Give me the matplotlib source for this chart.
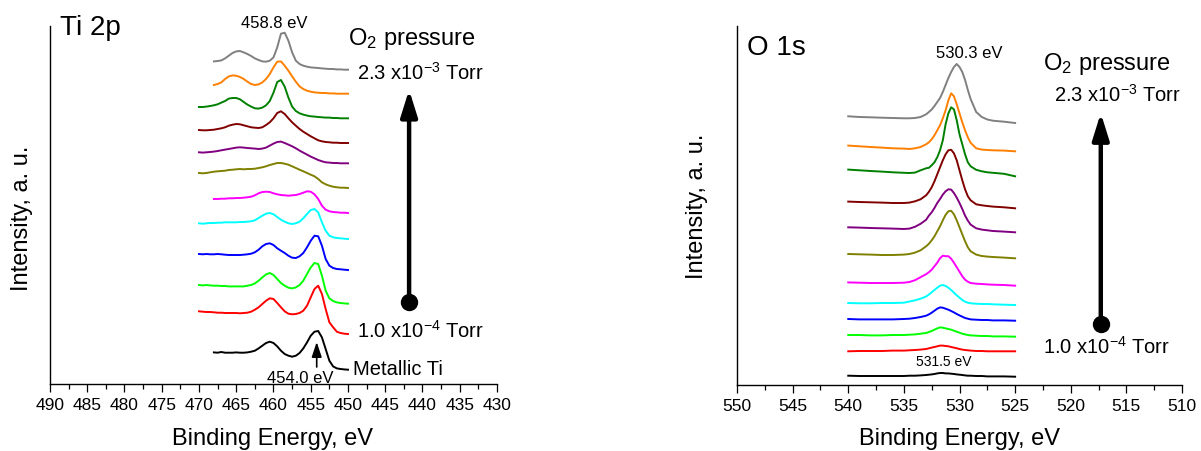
import numpy as np
import matplotlib
matplotlib.use('Agg')
import matplotlib.pyplot as plt
from matplotlib.ticker import MultipleLocator

plt.rcParams['font.family'] = 'Liberation Sans'
plt.rcParams['mathtext.fontset'] = 'custom'
plt.rcParams['mathtext.rm'] = 'Liberation Sans'
plt.rcParams['mathtext.it'] = 'Liberation Sans:italic'

# curve colours, top spectrum (highest O2 pressure) first
colors = ['#808080', '#FF8000', '#008000', '#800000', '#800080', '#808000',
          '#FF00FF', '#00FFFF', '#0000FF', '#00FF00', '#FF0000', '#000000']

# ---- Ti 2p spectra ----
ti_energy = [470, 469.5, 469, 468.5, 468, 467.5, 467, 466.5, 466, 465.5, 465,
             464.5, 464, 463.5, 463, 462.5, 462, 461.5, 461, 460.5, 460, 459.5,
             459, 458.5, 458, 457.5, 457, 456.5, 456, 455.5, 455, 454.5, 454,
             453.5, 453, 452.5, 452, 451.5, 451, 450.5, 450]
na = [None] * 4
ti_gray = na + [8.3, 8.7, 9.3, 11.3, 14, 16.7, 18.3, 18.7, 17.3, 15.7, 13.7, 11.3, 9.7,
                8.3, 8, 9, 12.3, 22.3, 36, 37, 29, 17.3, 9, 5.7, 4, 3, 2.3, 2, 1.7, 1.3,
                1, 0.7, 0.7, 0.3, 0.3, 0, 0]
ti_orange = na + [8.7, 9.7, 11.3, 14.7, 17.3, 18.3, 18, 16.7, 14.7, 12, 9.7, 8.7, 9.3,
                  11.3, 14.7, 19.7, 26.3, 32, 32.3, 28, 23, 17.3, 12, 7.3, 4.7, 3, 2,
                  1.3, 1, 0.7, 0.7, 0.3, 0.3, 0, 0, 0, 0]
ti_green = [11.3, 11.3, 11.7, 12.3, 13, 14, 15.7, 17.3, 19.7, 20.3, 20.3, 19, 16.3, 13.7,
            11.7, 10, 9.7, 10.7, 13, 17.3, 25.7, 36.3, 38.3, 31.7, 20.7, 11.7, 7.3, 5,
            3.7, 2.7, 2, 1.7, 1.3, 1, 0.7, 0.7, 0.3, 0.3, 0, 0, 0]
ti_darkred = [13, 12.7, 12.7, 13, 13.3, 14, 14.7, 15.7, 17.3, 18.3, 19, 18.7, 17.7, 16.7,
              15.7, 15.3, 15, 15.7, 18, 20.7, 24.7, 30, 31.7, 29, 24.7, 20.7, 17.3, 14,
              11.3, 9, 6.7, 4.7, 2.7, 1.7, 1, 0.7, 0.3, 0.3, 0, 0, 0]
ti_purple = [11, 10.7, 11, 11.3, 11.7, 12.3, 13, 13.7, 14.3, 15, 15.7, 16, 15.7, 15.3,
             15, 14.7, 14.3, 14.7, 15.7, 17.7, 19.7, 21.3, 21.7, 20.3, 18.7, 17, 15,
             12.7, 10.7, 8.7, 6.7, 5, 3.3, 2, 1, 0.7, 0.3, 0.3, 0, 0, 0]
ti_olive = [15, 14.7, 15, 15.7, 16.3, 16.7, 17, 17.3, 18, 18.3, 18.7, 19, 18.7, 19, 19,
            19.3, 20, 20.7, 21.7, 23, 24, 25, 25, 24.3, 23.3, 21.7, 20, 18.3, 16.7, 15,
            13.3, 11.7, 9, 5.7, 3.7, 2.3, 1.3, 0.7, 0.3, 0.3, 0]
ti_magenta = na + [14, 14, 14.3, 14.3, 14.7, 14.7, 15, 15, 15.3, 15.7, 16.3, 17.7, 19.7,
                   21, 21.3, 21, 19.7, 18.7, 18, 17.7, 17.3, 17.7, 18, 19, 20.3, 21.7,
                   21.3, 18.7, 14, 7.3, 3.3, 1.7, 1, 0.7, 0.3, 0.3, 0]
ti_cyan = [15.7, 15.3, 15.7, 16, 16, 16.3, 16.3, 16.7, 16.7, 16.7, 16.7, 17, 17, 17.3,
           17.7, 18.7, 21, 23.3, 25.3, 26, 24.7, 22, 19.3, 17.3, 15.7, 15, 15.7, 17.3,
           20.7, 25, 29, 30, 26.7, 16.7, 8.3, 3.3, 1.7, 1, 0.7, 0.3, 0]
ti_blue = [16, 15.7, 16, 15.7, 15.7, 16, 15.7, 15.3, 15, 15, 15, 15, 15.3, 15.7, 16.3,
           17.7, 20.3, 23.7, 26, 26.7, 25, 21.7, 19.3, 17, 14.3, 12.3, 12, 13.7, 17,
           22.7, 29.3, 34.3, 33.7, 24.3, 11, 4.3, 2, 1, 0.7, 0.3, 0]
ti_lime = [18.7, 18.3, 18.7, 18.3, 18, 18, 17.7, 17.7, 17.3, 17.3, 17.3, 17.3, 17.3, 18,
           18.7, 20.3, 23, 26.3, 29.3, 30.7, 28.7, 24.7, 20.7, 18, 16, 15.3, 16.3, 18.7,
           23, 29.7, 36.3, 40.7, 39.7, 28, 13, 5.3, 2.7, 1.3, 0.7, 0.3, 0]
ti_red = [22.7, 22.3, 22, 22, 21.7, 21.3, 21.3, 21, 21, 21, 21, 20.7, 21, 21.3, 22.3,
          24.3, 26.7, 30, 33.3, 35.7, 35, 31, 26.7, 22.7, 20.3, 19.7, 20, 21, 23.3, 28.3,
          36.7, 45, 48.3, 40, 25, 11.7, 6.7, 2.3, 1, 0.3, 0]
ti_black = na + [17.3, 17, 17.7, 17, 17, 17, 17.3, 17, 17, 17.3, 18, 19, 21.3, 24, 26.7,
                 28, 26.7, 23.3, 19, 15.7, 14, 13, 14, 16.7, 21.3, 27.3, 34, 38, 38.7,
                 32.3, 20.7, 9, 3.3, 1.3, 0.7, 0.3, 0]
ti_spectra = [ti_gray, ti_orange, ti_green, ti_darkred, ti_purple, ti_olive,
              ti_magenta, ti_cyan, ti_blue, ti_lime, ti_red, ti_black]
ti_offsets = [314.3, 290.3, 265.7, 241, 220.7, 196, 171, 145, 114, 80.3, 50, 14.3]

# ---- O 1s spectra ----
o_energy = [540, 539, 538, 537, 536, 535, 534.5, 534, 533.5, 533, 532.75, 532.5,
            532.25, 532, 531.75, 531.5, 531.25, 531, 530.75, 530.5, 530.25, 530,
            529.75, 529.5, 529.25, 529, 528.5, 528, 527.5, 527, 526, 525]
o_gray = [6.7, 6, 5.7, 5.3, 5, 4.7, 4.7, 5, 6, 8.7, 11, 13.5, 17, 21, 25, 31, 38, 45, 51,
          56, 59, 56, 51, 43, 33, 24, 11, 6, 3.5, 2.3, 1.3, 0]
o_orange = [5.7, 5, 4.3, 3.7, 3, 2.7, 2.3, 3, 4.3, 7, 9, 12, 16, 21, 26, 33, 41, 51,
            58, 55, 47, 38, 29, 21, 14, 8.5, 3, 1.7, 1.3, 1, 0.7, 0]
o_green = [6.7, 6, 5.3, 4.7, 4, 3.5, 3.3, 3.7, 6, 8, 8.5, 11, 14, 19, 26, 36, 52, 63,
           69, 67, 56, 42, 32, 22, 14, 10, 6.5, 5, 4, 3.5, 2.5, 0]
o_darkred = [6.7, 6.3, 6, 5.7, 5.3, 5.3, 5.7, 7, 9, 13, 16.5, 21, 27, 34, 41, 48, 54, 58,
             58.5, 55, 48, 38, 28, 19, 12, 8, 4, 3, 2.3, 1.7, 1, 0]
o_purple = [5, 4.7, 4.3, 4, 3.7, 3.3, 3.7, 5.5, 8.5, 12.5, 16.7, 20, 24.3, 29.3, 33.3,
            37.7, 41, 43, 42.7, 39.3, 34.7, 29.3, 23.3, 16.7, 11.7, 7.7, 4, 2.7, 2, 1.3,
            0.7, 0]
o_olive = [4.3, 4, 3.7, 3.3, 3.3, 3.7, 4.3, 5.7, 8, 12, 14.5, 18, 22, 27, 32, 38, 43.5,
           47, 47.5, 44, 38, 31, 24, 17, 11, 7, 3.7, 2.3, 1.7, 1.3, 0.7, 0]
o_magenta = [3.3, 3, 2.7, 2.7, 2.7, 3, 3.7, 5.5, 8.5, 11.5, 13.5, 16, 19.5, 23, 27.5, 30,
             29.5, 29.5, 27, 23, 18.5, 14, 9.5, 6, 4, 2.7, 2, 1.7, 1.3, 1, 0.7, 0]
o_cyan = [2, 1.7, 1.7, 2, 2, 2.3, 3.5, 4.7, 6.3, 8.5, 10.5, 12.7, 15, 17.3, 19.3, 20, 19,
          17.3, 15, 12.3, 9.7, 7.3, 5, 3.3, 2.3, 1.7, 1.3, 1, 1, 0.7, 0.3, 0]
o_blue = [1.7, 1.3, 1.3, 1.3, 1.3, 1.7, 2, 2.7, 3.7, 5, 6.3, 8, 10, 12, 13.3, 13, 12, 11,
          9.7, 8.3, 6.7, 5.3, 4, 2.7, 2, 1.3, 1, 0.7, 0.7, 0.3, 0.3, 0]
o_lime = [1.7, 1.7, 1.3, 1.3, 1.7, 1.7, 2, 2.3, 3, 3.7, 4.7, 5.7, 7, 8.3, 9.3, 9, 8.3,
          7.7, 7, 6, 5, 4, 3, 2.3, 1.7, 1.3, 1, 0.7, 0.7, 0.3, 0.3, 0]
o_red = [0, 0.3, 0.3, 0.3, 0.7, 0.7, 1, 1.3, 1.7, 2.3, 3, 3.7, 4.3, 5, 5.7, 5.7, 5.3, 5,
         4.3, 3.7, 3, 2.3, 1.7, 1.3, 1, 0.7, 0.3, 0.3, 0, 0, 0, 0]
o_black = [1, 0.7, 0.7, 0.7, 0.7, 0.7, 1, 1, 1.3, 1.7, 2, 2.3, 2.7, 3.3, 3.7, 3.7, 3.3,
           3.3, 3, 2.7, 2.3, 2, 1.7, 1.3, 1, 1, 0.7, 0.7, 0.3, 0.3, 0.3, 0]
o_spectra = [o_gray, o_orange, o_green, o_darkred, o_purple, o_olive,
             o_magenta, o_cyan, o_blue, o_lime, o_red, o_black]
o_offsets = [262, 233.7, 208.7, 176.7, 152.7, 126.7, 99.3, 80, 64.3, 48.3, 33.7, 8.3]


def setup_axes(ax, xhi, xlo, ytop, xlab_pos, ylab_pos):
    ax.set_xlim(xhi, xlo)
    ax.set_ylim(0, ytop)
    ax.set_xticks(np.arange(xhi, xlo - 1, -5))
    ax.xaxis.set_minor_locator(MultipleLocator(2.5))
    ax.set_yticks([])
    for side in ['top', 'right']:
        ax.spines[side].set_visible(False)
    for side in ['left', 'bottom']:
        ax.spines[side].set_linewidth(1.0)
    ax.tick_params(axis='x', which='major', direction='out', length=5.8,
                   width=0.9, labelsize=12.5, pad=3.5)
    ax.tick_params(axis='x', which='minor', direction='out', length=3.6, width=0.9)
    ax.text(xlab_pos[0], xlab_pos[1], 'Binding Energy, eV', transform=ax.transAxes,
            ha='center', va='center', fontsize=17)
    ax.text(ylab_pos[0], ylab_pos[1], 'Intensity, a. u.', transform=ax.transAxes,
            ha='center', va='center', rotation=90, fontsize=17)


def draw_stack(ax, energy, spectra, offsets):
    x = np.array(energy, dtype=float)
    for y, off, c in zip(spectra, offsets, colors):
        ax.plot(x, np.array(y, dtype=float) + off, color=c, lw=1.4)


def pressure_arrow(ax, x, y0, y1):
    ax.annotate('', xy=(x, y1), xytext=(x, y0),
                arrowprops=dict(arrowstyle='-|>,head_length=1.6,head_width=0.5',
                                mutation_scale=10, lw=3.2, color='black',
                                shrinkA=0, shrinkB=0))
    ax.plot([x], [y0], 'o', color='black', ms=11.5)


fig = plt.figure(figsize=(12.01, 4.52), dpi=100)
W, H = 1201, 452
ax1 = fig.add_axes([50 / W, (H - 385) / H, 447 / W, 358 / H])
ax2 = fig.add_axes([737 / W, (H - 386) / H, 445 / W, 359 / H])

# Ti 2p panel
setup_axes(ax1, 490, 430, 358, (0.497, -0.151), (-0.0626, 0.466))
draw_stack(ax1, ti_energy, ti_spectra, ti_offsets)
ax1.text(488.7, 350, 'Ti 2p', fontsize=20, ha='left', va='baseline')
ax1.text(459.9, 357, '458.8 eV', fontsize=12, ha='center', va='baseline')
ax1.text(450.0, 340, 'O$_2$ pressure', fontsize=17, ha='left', va='baseline')
ax1.text(448.8, 305, '2.3 x10$^{-3}$ Torr', fontsize=14.5, ha='left', va='baseline')
ax1.text(448.8, 47, '1.0 x10$^{-4}$ Torr', fontsize=14.5, ha='left', va='baseline')
ax1.text(449.3, 10, 'Metallic Ti', fontsize=14.5, ha='left', va='baseline')
ax1.text(456.4, 2, '454.0 eV', fontsize=12, ha='center', va='baseline')
ax1.annotate('', xy=(454.2, 42), xytext=(454.2, 17),
             arrowprops=dict(arrowstyle='-|>,head_length=0.9,head_width=0.3',
                             mutation_scale=10, lw=1.2, color='black',
                             shrinkA=0, shrinkB=0))
pressure_arrow(ax1, 441.8, 82.3, 294.3)

# O 1s panel
setup_axes(ax2, 550, 510, 359, (0.4993, -0.1476), (-0.0906, 0.4995))
draw_stack(ax2, o_energy, o_spectra, o_offsets)
ax2.text(549.1, 331, 'O 1s', fontsize=20, ha='left', va='baseline')
ax2.text(529.15, 328, '530.3 eV', fontsize=12, ha='center', va='baseline')
ax2.text(522.5, 316, 'O$_2$ pressure', fontsize=17, ha='left', va='baseline')
ax2.text(521.5, 284, '2.3 x10$^{-3}$ Torr', fontsize=14.5, ha='left', va='baseline')
ax2.text(522.5, 32, '1.0 x10$^{-4}$ Torr', fontsize=14.5, ha='left', va='baseline')
ax2.text(531.44, 20, '531.5 eV', fontsize=10, ha='center', va='baseline')
pressure_arrow(ax2, 517.3, 61, 272)

plt.savefig('out.png', dpi=100)
plt.close()
